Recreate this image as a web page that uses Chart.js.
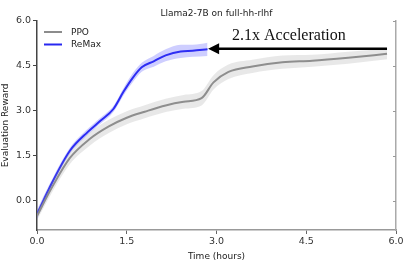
<!DOCTYPE html>
<html>
<head>
<meta charset="utf-8">
<script src="https://cdn.jsdelivr.net/npm/chart.js@4/dist/chart.umd.min.js"></script>
<style>
  html, body { margin: 0; padding: 0; background: #fff; }
  #wrap { width: 415px; height: 262px; }
</style>
</head>
<body>
<div id="wrap"><canvas id="chart"></canvas></div>
<script>
// Data
const ppoHours = [0, 0.25, 0.55, 0.88, 1.2, 1.5, 1.8, 2.15, 2.45, 2.75, 2.95, 3.2, 3.6, 4.1, 4.6, 5.2, 5.85];
const ppoReward = [-0.5, 0.45, 1.43, 2.06, 2.48, 2.77, 2.97, 3.18, 3.3, 3.42, 3.95, 4.3, 4.48, 4.62, 4.67, 4.77, 4.9];
const ppoSpread = [0.15, 0.17, 0.2, 0.22, 0.22, 0.22, 0.22, 0.22, 0.23, 0.24, 0.24, 0.24, 0.22, 0.22, 0.2, 0.2, 0.18];

const remaxHours = [0, 0.2, 0.55, 0.85, 1.05, 1.28, 1.45, 1.6, 1.75, 1.95, 2.15, 2.4, 2.6, 2.85];
const remaxReward = [-0.45, 0.4, 1.67, 2.3, 2.65, 3.07, 3.65, 4.1, 4.45, 4.65, 4.85, 4.98, 5.0, 5.05];
const remaxSpread = [0.15, 0.12, 0.1, 0.1, 0.1, 0.1, 0.12, 0.15, 0.15, 0.18, 0.2, 0.22, 0.2, 0.22];

const tickValues = [0, 1.5, 3.0, 4.5, 6.0];
const seriesNames = ['PPO', 'ReMax'];
const titleText = 'Llama2-7B on full-hh-rlhf';
const noteText = '2.1x Acceleration';
// arrow from the end of PPO back to where ReMax reaches the same reward
const arrowStart = { x: 5.85, y: 5.07 };
const arrowEnd = { x: 2.86, y: 5.07 };

const blue = 'rgb(40, 40, 240)';
const grey = '#8c8c8c';

function pts(xs, ys, off) {
  return xs.map((x, i) => ({ x: x, y: ys[i] + (off ? off[i] : 0) }));
}
const neg = a => a.map(v => -v);

const overlay = {
  id: 'overlay',
  afterDraw(chart) {
    const { ctx, scales } = chart;
    const x = scales.x, y = scales.y;
    const area = chart.chartArea;
    ctx.save();

    // inward ticks on right spine
    ctx.strokeStyle = '#999';
    ctx.lineWidth = 1;
    tickValues.forEach(v => {
      const py = Math.round(y.getPixelForValue(v)) + 0.5;
      ctx.beginPath();
      ctx.moveTo(area.right, py);
      ctx.lineTo(area.right - 3, py);
      ctx.stroke();
    });

    // legend
    ctx.font = '9px "DejaVu Sans"';
    ctx.textBaseline = 'middle';
    [[grey, seriesNames[0], 32], [blue, seriesNames[1], 44.5]].forEach(([c, t, py]) => {
      ctx.strokeStyle = c;
      ctx.lineWidth = 2;
      ctx.beginPath();
      ctx.moveTo(44, py);
      ctx.lineTo(62, py);
      ctx.stroke();
      ctx.fillStyle = '#222';
      ctx.fillText(t, 71, py + 0.5);
    });

    // arrow
    const x0 = x.getPixelForValue(arrowStart.x), y0 = y.getPixelForValue(arrowStart.y);
    const x1 = x.getPixelForValue(arrowEnd.x), y1 = y.getPixelForValue(arrowEnd.y);
    ctx.strokeStyle = '#000';
    ctx.fillStyle = '#000';
    ctx.lineWidth = 2.5;
    ctx.beginPath();
    ctx.moveTo(x0, y0);
    ctx.lineTo(x1 + 10, y1);
    ctx.stroke();
    ctx.beginPath();
    ctx.moveTo(x1, y1);
    ctx.lineTo(x1 + 11, y1 - 5.5);
    ctx.lineTo(x1 + 11, y1 + 5.5);
    ctx.closePath();
    ctx.fill();

    // annotation text
    ctx.font = '16px "Liberation Serif"';
    ctx.textBaseline = 'alphabetic';
    ctx.fillStyle = '#111';
    ctx.fillText(noteText, x.getPixelForValue(3.26), y.getPixelForValue(5.37));
    ctx.restore();
  }
};

const smooth = { pointRadius: 0, cubicInterpolationMode: 'monotone' };

new Chart(document.getElementById('chart'), {
  type: 'line',
  data: {
    datasets: [
      { ...smooth, data: pts(ppoHours, ppoReward, neg(ppoSpread)), borderWidth: 0, fill: false },
      { ...smooth, data: pts(ppoHours, ppoReward, ppoSpread), borderWidth: 0,
        fill: 0, backgroundColor: 'rgba(150, 150, 150, 0.22)' },
      { ...smooth, label: seriesNames[0], data: pts(ppoHours, ppoReward), borderColor: grey, borderWidth: 2, fill: false },
      { ...smooth, data: pts(remaxHours, remaxReward, neg(remaxSpread)), borderWidth: 0, fill: false },
      { ...smooth, data: pts(remaxHours, remaxReward, remaxSpread), borderWidth: 0,
        fill: 3, backgroundColor: 'rgba(60, 60, 255, 0.25)' },
      { ...smooth, label: seriesNames[1], data: pts(remaxHours, remaxReward), borderColor: blue, borderWidth: 2, fill: false }
    ]
  },
  options: {
    responsive: true,
    maintainAspectRatio: false,
    animation: false,
    layout: { padding: 0 },
    plugins: {
      legend: { display: false },
      tooltip: { enabled: false },
      title: {
        display: true,
        text: titleText,
        fullSize: false,
        color: '#222',
        font: { family: 'DejaVu Sans', size: 9, weight: 'normal' },
        padding: { top: 8, bottom: 2 }
      }
    },
    scales: {
      x: {
        type: 'linear',
        min: 0,
        max: 6,
        afterBuildTicks: s => { s.ticks = tickValues.map(v => ({ value: v })); },
        afterFit: s => { s.height = 32; },
        border: { color: '#999', width: 1.5 },
        grid: { drawOnChartArea: false, tickLength: 4, color: '#666' },
        ticks: { color: '#333', font: { family: 'DejaVu Sans', size: 9.5 }, padding: 2, maxRotation: 0,
          callback: v => v.toFixed(1) },
        title: { display: true, text: 'Time (hours)', color: '#222', padding: 0,
          font: { family: 'DejaVu Sans', size: 9 } }
      },
      y: {
        min: -0.97,
        max: 6,
        afterBuildTicks: s => { s.ticks = tickValues.map(v => ({ value: v })); },
        afterFit: s => { s.width = 37; },
        border: { color: '#444', width: 1.5 },
        grid: { drawOnChartArea: false, tickLength: 4, color: '#444' },
        ticks: { color: '#333', font: { family: 'DejaVu Sans', size: 9.5 }, padding: 2,
          callback: v => v.toFixed(1) },
        title: { display: true, text: 'Evaluation Reward', color: '#222', padding: 0,
          font: { family: 'DejaVu Sans', size: 9 } }
      },
      y2: {
        position: 'right',
        min: -0.97,
        max: 6,
        afterFit: s => { s.width = 19; },
        border: { color: '#aaa', width: 1.5 },
        grid: { display: false },
        ticks: { display: false }
      }
    }
  },
  plugins: [overlay]
});
</script>
</body>
</html>
